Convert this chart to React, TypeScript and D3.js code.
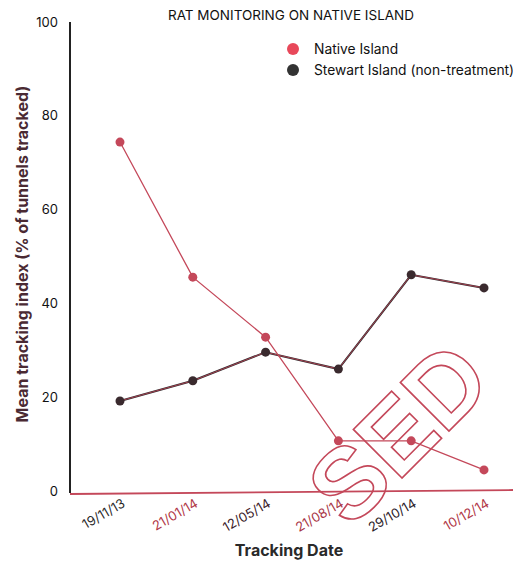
import React, { useEffect, useRef } from "react";
import * as d3 from "d3";

const dates = ["19/11/13", "21/01/14", "12/05/14", "21/08/14", "29/10/14", "10/12/14"];
const nativeIsland = [74.4, 45.6, 32.8, 10.7, 10.7, 4.5];
const stewartIsland = [19.2, 23.5, 29.6, 26.0, 46.1, 43.3];
const yTicks = [0, 20, 40, 60, 80, 100];
const labelColors = ["#2a2a2a", "#b03545", "#3a2028", "#a83545", "#2a2028", "#b03545"];

const W = 513;
const H = 562;

export default function App() {
  const ref = useRef<SVGSVGElement>(null);
  useEffect(() => {
    const svg = d3.select(ref.current);
    svg.selectAll("*").remove();
    const red = "#c4485a";
    const dark = "#2e2a2c";
    const x = d3.scalePoint<string>().domain(dates).range([120, 484]);
    const y = d3.scaleLinear().domain([0, 100]).range([491, 22]);
    const font = "Inter, 'Noto Sans', sans-serif";

    // stamp watermark
    const stamp = svg.append("g").attr("fill", "none").attr("stroke", red).attr("stroke-width", 1.6);
    stamp.append("text")
      .attr("transform", "translate(350,530) rotate(-45)")
      .attr("font-family", "Arial, 'Liberation Sans', sans-serif")
      .attr("font-weight", 700)
      .attr("font-size", 100)
      .text("SED");

    // axes
    svg.append("line").attr("x1", 70).attr("x2", 70).attr("y1", 22).attr("y2", 493)
      .attr("stroke", "#222").attr("stroke-width", 2);
    svg.append("line").attr("x1", 70).attr("x2", 513).attr("y1", 494).attr("y2", 490)
      .attr("stroke", red).attr("stroke-width", 1.8);

    svg.append("g").selectAll("text").data(yTicks).join("text")
      .attr("x", 58).attr("y", (d) => y(d)).attr("dy", "0.35em")
      .attr("text-anchor", "end").attr("font-family", font).attr("font-size", 13)
      .attr("fill", "#111").text((d) => d);

    svg.append("g").selectAll("text").data(dates).join("text")
      .attr("transform", (d) => `translate(${(x(d) as number) + 6},${506}) rotate(-30)`)
      .attr("text-anchor", "end").attr("font-family", font).attr("font-size", 13)
      .attr("fill", (_d, i) => labelColors[i]).text((d) => d);

    // titles
    svg.append("text").attr("x", 291).attr("y", 20).attr("text-anchor", "middle")
      .attr("font-family", font).attr("font-size", 13.5).attr("fill", "#111")
      .text("RAT MONITORING ON NATIVE ISLAND");
    svg.append("text").attr("x", 289).attr("y", 556).attr("text-anchor", "middle")
      .attr("font-family", font).attr("font-weight", 700).attr("font-size", 16).attr("fill", "#2a2a2a")
      .text("Tracking Date");
    svg.append("text").attr("transform", "translate(28,254) rotate(-90)").attr("text-anchor", "middle")
      .attr("font-family", font).attr("font-weight", 700).attr("font-size", 16).attr("fill", "#4a2a33")
      .text("Mean tracking index (% of tunnels tracked)");

    // legend
    const leg = [
      { label: "Native Island", color: "#e8485a", yy: 49 },
      { label: "Stewart Island (non-treatment)", color: "#333", yy: 70 },
    ];
    leg.forEach((l) => {
      svg.append("circle").attr("cx", 293).attr("cy", l.yy).attr("r", 6).attr("fill", l.color);
      svg.append("text").attr("x", 314).attr("y", l.yy).attr("dy", "0.35em")
        .attr("font-family", font).attr("font-size", 13.8).attr("fill", "#111").text(l.label);
    });

    const line = d3.line<number>().x((_d, i) => x(dates[i]) as number).y((d) => y(d));
    svg.append("path").datum(stewartIsland).attr("d", line).attr("fill", "none")
      .attr("stroke", dark).attr("stroke-width", 2);
    svg.append("path").datum(stewartIsland).attr("d", line).attr("fill", "none")
      .attr("stroke", red).attr("stroke-width", 0.8);
    svg.append("path").datum(nativeIsland).attr("d", line).attr("fill", "none")
      .attr("stroke", red).attr("stroke-width", 1.3);

    svg.append("g").selectAll("circle").data(stewartIsland).join("circle")
      .attr("cx", (_d, i) => x(dates[i]) as number).attr("cy", (d) => y(d)).attr("r", 4.5)
      .attr("fill", "#3a2a2e");
    svg.append("g").selectAll("circle").data(nativeIsland).join("circle")
      .attr("cx", (_d, i) => x(dates[i]) as number).attr("cy", (d) => y(d)).attr("r", 4.5)
      .attr("fill", red);
  }, []);
  return (
    <svg ref={ref} width={W} height={H} style={{ position: "absolute", left: 0, top: 0, background: "#fff" }} />
  );
}
